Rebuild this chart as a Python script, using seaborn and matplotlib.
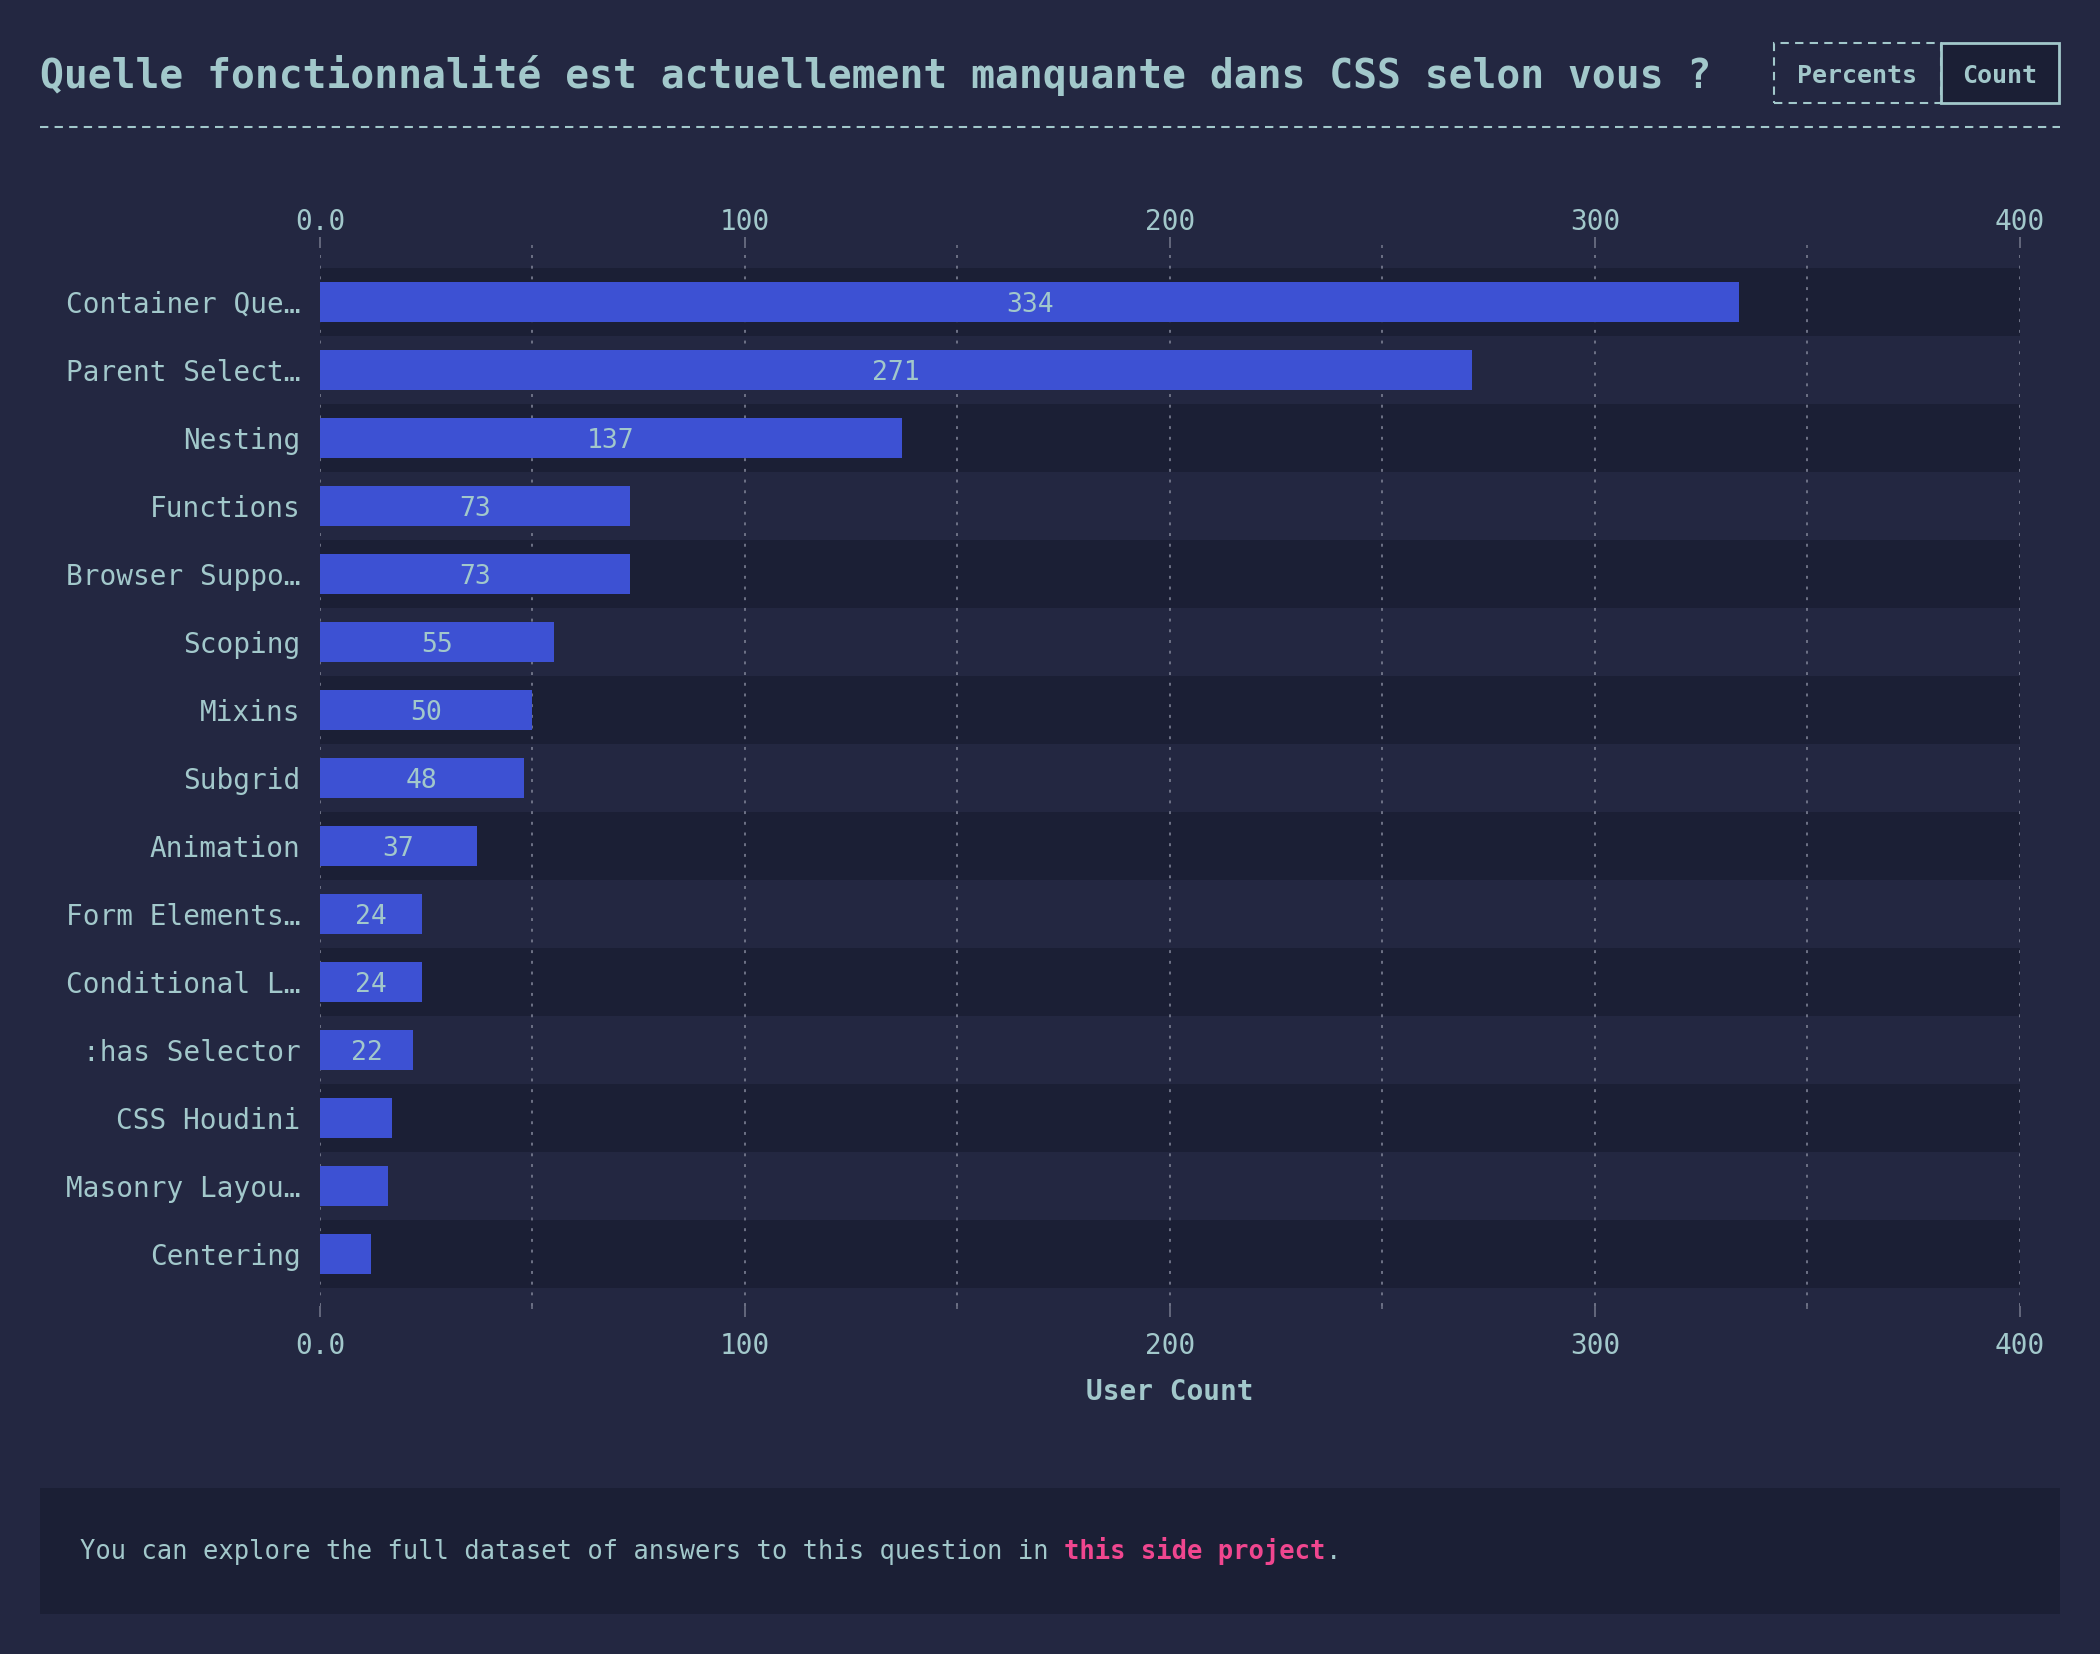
import matplotlib
matplotlib.use("Agg")
import matplotlib.pyplot as plt
from matplotlib.patches import Rectangle
from matplotlib.lines import Line2D
import seaborn as sns
import pandas as pd

# ---- data ----
features = ["Container Que…", "Parent Select…", "Nesting", "Functions", "Browser Suppo…",
            "Scoping", "Mixins", "Subgrid", "Animation", "Form Elements…",
            "Conditional L…", ":has Selector", "CSS Houdini", "Masonry Layou…", "Centering"]
counts = [334, 271, 137, 73, 73, 55, 50, 48, 37, 24, 24, 22, 17, 16, 12]
major_ticks = [0, 100, 200, 300, 400]
major_labels = ["0.0", "100", "200", "300", "400"]
minor_ticks = [50, 150, 250, 350]
title = "Quelle fonctionnalité est actuellement manquante dans CSS selon vous ?"
xlabel = "User Count"
footer_a = "You can explore the full dataset of answers to this question in "
footer_b = "this side project"
footer_c = "."
buttons = ["Percents", "Count"]

# ---- style ----
BG = "#232741"
DARK = "#1b1f35"
BAR = "#3d51d3"
TXT = "#a2c8cb"
GRID = "#6e7286"
PINK = "#f0468f"

sns.set_style("dark")
plt.rcParams["font.family"] = ["DejaVu Sans Mono", "DejaVu Sans"]
plt.rcParams["axes.facecolor"] = BG
plt.rcParams["figure.facecolor"] = BG

df = pd.DataFrame({"feature": features, "count": counts})

fig = plt.figure(figsize=(21, 16.54), dpi=100)
ax = fig.add_axes([0.15238, 0.2104, 0.80952, 0.63966])
ax.set_facecolor(BG)

sns.barplot(data=df, x="count", y="feature", orient="h", color=BAR,
            saturation=1, width=0.59, ax=ax, linewidth=0, edgecolor="none")

# alternating bands
for i in range(len(features)):
    if i % 2 == 0:
        ax.axhspan(i - 0.5, i + 0.5, color=DARK, zorder=0.1, lw=0)

ax.set_xlim(0, 400)
ax.set_ylim(len(features) - 0.5 + 0.265, -0.5 - 0.294)

ax.set_xticks(major_ticks)
ax.set_xticklabels(major_labels)
ax.set_xticks(minor_ticks, minor=True)
ax.set_axisbelow(True)
ax.grid(which="both", axis="x", color=GRID, linestyle=(0, (1.5, 4)), linewidth=1.4)
ax.grid(which="both", axis="y", visible=False)

ax.tick_params(axis="x", which="major", top=False, labeltop=False, bottom=True,
               labelbottom=True, length=8, width=1.2, color=GRID,
               labelcolor=TXT, labelsize=20, pad=11)
ax.tick_params(axis="x", which="minor", top=False, bottom=True, length=2,
               width=1.2, color=GRID)
ax.tick_params(axis="y", length=0, labelcolor=TXT, labelsize=20, pad=14)

for s in ax.spines.values():
    s.set_visible(False)

# top axis
sec = ax.secondary_xaxis("top")
sec.set_xticks(major_ticks)
sec.set_xticklabels(major_labels)
sec.set_xticks(minor_ticks, minor=True)
sec.tick_params(axis="x", which="major", length=8, width=1.2, color=GRID,
                labelcolor=TXT, labelsize=20, pad=1)
sec.tick_params(axis="x", which="minor", length=2, width=1.2, color=GRID)
sec.spines["top"].set_visible(False)

ax.set_ylabel("")
ax.set_xlabel(xlabel, color=TXT, fontsize=20, fontweight="bold", labelpad=13)

# bar value labels
labels = [str(v) if v >= 20 else "" for v in counts]
anns = ax.bar_label(ax.containers[0], labels=labels, label_type="center",
                    color=TXT, fontsize=19)
for a in anns:
    a.set_va("center_baseline")

# ---- title & header ----
fig.text(0.01905, 0.9468, title, color=TXT, fontsize=28.5, fontweight="bold",
         ha="left", va="baseline")
fig.add_artist(Line2D([0.01905, 0.98095], [0.92322, 0.92322], transform=fig.transFigure,
                      color=TXT, lw=1.5, linestyle=(0, (4, 3))))

# buttons
fig.add_artist(Rectangle((0.84476, 0.93773), 0.92429 - 0.84476, 0.03627,
                         transform=fig.transFigure, facecolor="none",
                         edgecolor=TXT, lw=1.5, linestyle=(0, (4, 3))))
fig.add_artist(Rectangle((0.92429, 0.93773), 0.98048 - 0.92429, 0.03627,
                         transform=fig.transFigure, facecolor=DARK,
                         edgecolor=TXT, lw=2))
fig.text(0.88452, 0.95586, buttons[0], color=TXT, fontsize=18, fontweight="bold",
         ha="center", va="center_baseline")
fig.text(0.95238, 0.95586, buttons[1], color=TXT, fontsize=18, fontweight="bold",
         ha="center", va="center_baseline")

# ---- footer ----
fig.add_artist(Rectangle((0.01905, 0.02418), 0.98095 - 0.01905, 0.10036 - 0.02418,
                         transform=fig.transFigure, facecolor=DARK, edgecolor="none"))
t1 = fig.text(0.0381, 0.06167, footer_a, color=TXT, fontsize=18.4,
              ha="left", va="center")
t2 = fig.text(0, 0, footer_b, color=PINK, fontsize=18.4, fontweight="bold",
              ha="left", va="bottom")
t3 = fig.text(0, 0, footer_c, color=TXT, fontsize=18.4, ha="left", va="bottom")
fig.canvas.draw()
r = fig.canvas.get_renderer()
bb1 = t1.get_window_extent(r)
W, H = fig.get_size_inches() * fig.dpi
t2.set_position((bb1.x1 / W, bb1.y0 / H))
fig.canvas.draw()
bb2 = t2.get_window_extent(r)
t3.set_position((bb2.x1 / W, bb1.y0 / H))

fig.savefig("out.png", dpi=100, facecolor=BG)
